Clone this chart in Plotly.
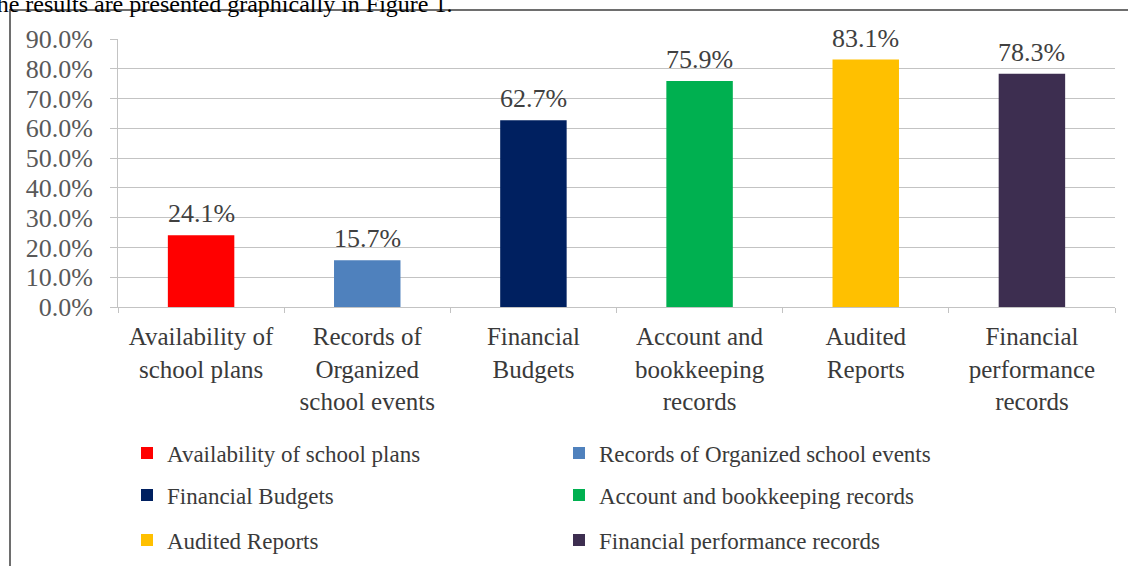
import plotly.graph_objects as go

# ---- data ----
categories = [
    "Availability of school plans",
    "Records of Organized school events",
    "Financial Budgets",
    "Account and bookkeeping records",
    "Audited Reports",
    "Financial performance records",
]
tick_labels = [
    "Availability of<br>school plans",
    "Records of<br>Organized<br>school events",
    "Financial<br>Budgets",
    "Account and<br>bookkeeping<br>records",
    "Audited<br>Reports",
    "Financial<br>performance<br>records",
]
values = [24.1, 15.7, 62.7, 75.9, 83.1, 78.3]
colors = ["#FF0000", "#4F81BD", "#002060", "#00B050", "#FFC000", "#3D2E50"]

# ---- geometry (pixels) ----
W, H = 1128, 566
L, R, T, B = 118, 13, 39, 259
PW, PH = W - L - R, H - T - B

def px_x(p):
    return (p - L) / PW

def px_y(p):
    return (H - B - p) / PH

SERIF = "Liberation Serif, Times New Roman, serif"
GRID = "#c3c3c3"

legend_names = ["legend", "legend2", "legend3", "legend4", "legend5", "legend6"]
col_x = [px_x(127), px_x(559)]
row_y = [px_y(453), px_y(495), px_y(540)]

fig = go.Figure()
for i, (cat, lab, v, c) in enumerate(zip(categories, tick_labels, values, colors)):
    fig.add_trace(go.Bar(
        x=[lab], y=[v], name=cat, marker=dict(color=c, line=dict(width=0)),
        width=0.4, legend=legend_names[i], hoverinfo="skip",
    ))

layout_legends = {}
for i, ln in enumerate(legend_names):
    layout_legends[ln] = dict(
        x=col_x[i % 2], y=row_y[i // 2], xanchor="left", yanchor="middle",
        orientation="h", bgcolor="rgba(0,0,0,0)", borderwidth=0,
        font=dict(family=SERIF, size=23, color="#3a3a3a"),
        itemwidth=30, itemclick=False, itemdoubleclick=False,
    )

annotations = []
for lab, v in zip(tick_labels, values):
    annotations.append(dict(
        x=lab, y=v, xref="x", yref="y", text=f"{v:.1f}%", showarrow=False,
        yanchor="bottom", yshift=5,
        font=dict(family=SERIF, size=26, color="#404040"),
    ))
annotations.append(dict(
    x=px_x(455), y=px_y(19), xref="paper", yref="paper",
    text="The results are presented graphically in Figure 1.", showarrow=False,
    xanchor="right", yanchor="bottom",
    font=dict(family=SERIF, size=24, color="#000000"),
))

fig.update_layout(
    width=W, height=H,
    margin=dict(l=L, r=R, t=T, b=B, autoexpand=False),
    paper_bgcolor="white", plot_bgcolor="white",
    barmode="overlay", showlegend=True,
    annotations=annotations,
    shapes=[dict(
        type="rect", xref="paper", yref="paper",
        x0=px_x(10), x1=px_x(1140), y0=px_y(10), y1=px_y(580),
        line=dict(color="#6e6e6e", width=2), fillcolor="rgba(0,0,0,0)", layer="above",
    )],
    xaxis=dict(
        type="category", showgrid=False, showline=True, linecolor=GRID, linewidth=1,
        ticks="outside", tickson="boundaries", ticklen=5, tickcolor=GRID,
        tickfont=dict(family=SERIF, size=25, color="#3a3a3a"),
        ticklabelstandoff=7, fixedrange=True,
    ),
    yaxis=dict(
        range=[0, 90], dtick=10, tickformat=".1f", ticksuffix="%",
        showgrid=True, gridcolor=GRID, gridwidth=1, zeroline=False,
        showline=True, linecolor=GRID, linewidth=1,
        ticks="outside", ticklen=7, tickcolor=GRID,
        tickfont=dict(family=SERIF, size=26, color="#595959"),
        ticklabelstandoff=12, fixedrange=True,
    ),
    **layout_legends,
)

fig.write_html("out.html")
